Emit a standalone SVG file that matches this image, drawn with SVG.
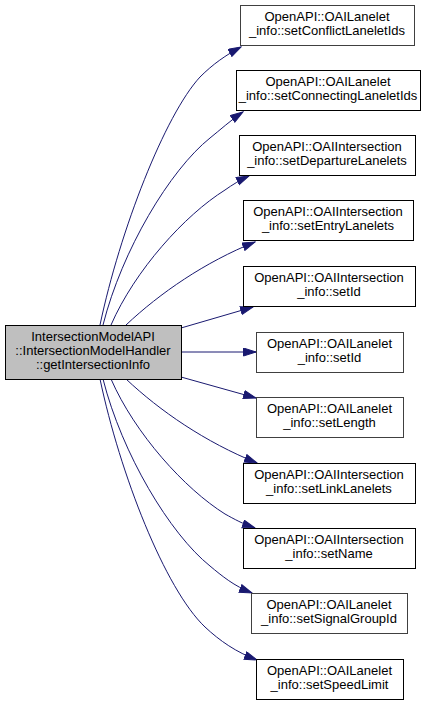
<svg xmlns="http://www.w3.org/2000/svg" width="435" height="705" viewBox="0 0 435 705">
<defs>
<marker id="ah" markerUnits="userSpaceOnUse" markerWidth="14" markerHeight="10" refX="13" refY="4.5" orient="auto">
<path d="M0.5,0.5 L13,4.5 L0.5,8.5 z" fill="#191970" stroke="#191970" stroke-width="1"/>
</marker>
</defs>
<style>
rect{shape-rendering:crispEdges}
.n rect{fill:#ffffff;stroke:#000000;stroke-width:1}
.n.g rect{stroke:#404040}
.m rect{fill:#bfbfbf;stroke:#000000;stroke-width:1}
text{font-family:"Liberation Sans",Arial,sans-serif;font-size:13px;fill:#000000;text-anchor:middle}
.e path{fill:none;stroke:#191970;stroke-width:1;marker-end:url(#ah)}
</style>
<g id="edges" class="e">
<path d="M100,325 C120,230 165,115 200,77 C213,64 226,55 241,47"/>
<path d="M103,325 C122,250 170,170 210,138 C220,130 231,120 243,112"/>
<path d="M111,325 C135,270 185,215 225,190 C232,185 240,180 249,176"/>
<path d="M126,325 C160,293 205,262 255,242"/>
<path d="M181,328 L253,307"/>
<path d="M181,352 L256,352"/>
<path d="M181,377 L256,398"/>
<path d="M126,379 C160,411 205,442 257,463"/>
<path d="M111,379 C135,434 185,489 225,514 C234,519 243,524 255,528"/>
<path d="M103,379 C122,454 170,534 210,566 C222,576 234,586 252,593"/>
<path d="M100,379 C120,474 165,589 205,627 C220,641 236,652 257,660"/>
</g>
<g id="main" class="m">
<rect x="5" y="325" width="176" height="54"/>
<text x="93" y="341">IntersectionModelAPI</text>
<text x="93" y="355">::IntersectionModelHandler</text>
<text x="93" y="369">::getIntersectionInfo</text>
</g>
<g id="n1" class="n g">
<rect x="240" y="5" width="174" height="40"/>
<text x="327" y="21">OpenAPI::OAILanelet</text>
<text x="327" y="35">_info::setConflictLaneletIds</text>
</g>
<g id="n2" class="n">
<rect x="236" y="70" width="184" height="40"/>
<text x="328" y="86">OpenAPI::OAILanelet</text>
<text x="328" y="100">_info::setConnectingLaneletIds</text>
</g>
<g id="n3" class="n">
<rect x="239" y="135" width="176" height="40"/>
<text x="327" y="151">OpenAPI::OAIIntersection</text>
<text x="327" y="165">_info::setDepartureLanelets</text>
</g>
<g id="n4" class="n">
<rect x="243" y="200" width="170" height="40"/>
<text x="328" y="216">OpenAPI::OAIIntersection</text>
<text x="328" y="230">_info::setEntryLanelets</text>
</g>
<g id="n5" class="n">
<rect x="243" y="266" width="172" height="40"/>
<text x="329" y="282">OpenAPI::OAIIntersection</text>
<text x="329" y="296">_info::setId</text>
</g>
<g id="n6" class="n g">
<rect x="256" y="332" width="147" height="40"/>
<text x="329.5" y="348">OpenAPI::OAILanelet</text>
<text x="329.5" y="362">_info::setId</text>
</g>
<g id="n7" class="n g">
<rect x="256" y="397" width="147" height="40"/>
<text x="329.5" y="413">OpenAPI::OAILanelet</text>
<text x="329.5" y="427">_info::setLength</text>
</g>
<g id="n8" class="n">
<rect x="243" y="463" width="172" height="40"/>
<text x="329" y="479">OpenAPI::OAIIntersection</text>
<text x="329" y="493">_info::setLinkLanelets</text>
</g>
<g id="n9" class="n">
<rect x="243" y="528" width="172" height="40"/>
<text x="329" y="544">OpenAPI::OAIIntersection</text>
<text x="329" y="558">_info::setName</text>
</g>
<g id="n10" class="n g">
<rect x="251" y="593" width="156" height="40"/>
<text x="329" y="609">OpenAPI::OAILanelet</text>
<text x="329" y="623">_info::setSignalGroupId</text>
</g>
<g id="n11" class="n">
<rect x="256" y="659" width="147" height="40"/>
<text x="329.5" y="675">OpenAPI::OAILanelet</text>
<text x="329.5" y="689">_info::setSpeedLimit</text>
</g>
</svg>
